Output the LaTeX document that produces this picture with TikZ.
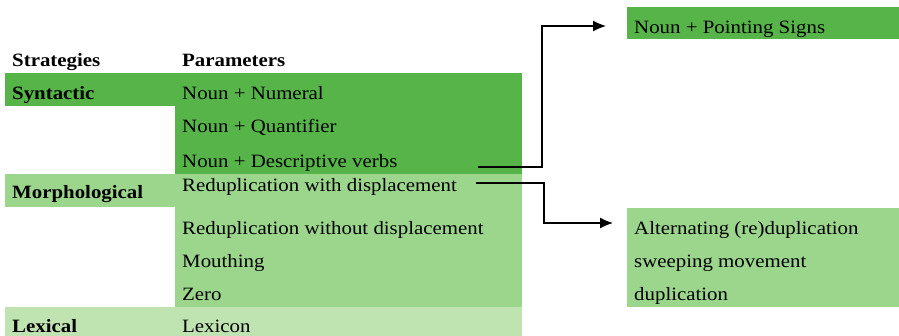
\documentclass[tikz,border=0pt]{standalone}
\usepackage{fontspec}
\setmainfont{Liberation Serif}[FakeStretch=1.11]
\usetikzlibrary{arrows.meta}
\definecolor{gdark}{RGB}{86,180,72}
\definecolor{gmid}{RGB}{155,214,140}
\definecolor{glight}{RGB}{191,228,177}
\begin{document}
\begin{tikzpicture}[x=1pt,y=-1pt,
  lbl/.style={anchor=base west,inner sep=0pt,font=\fontsize{18.8}{20}\selectfont},
  hdr/.style={lbl,font=\fontsize{18.8}{20}\selectfont\bfseries},
  link/.style={draw=black,line width=1.2pt,-{Latex[length=13pt,width=11pt]}}]
\useasboundingbox (0,0) rectangle (899,336);
% table bands
\fill[gdark] (5,73) rectangle (175,106);
\fill[gdark] (175,73) rectangle (522,174);
\fill[gmid] (5,174) rectangle (175,207);
\fill[gmid] (175,174) rectangle (522,307);
\fill[glight] (5,307) rectangle (522,336);
% boxes on the right
\fill[gdark] (627,7) rectangle (899,39);
\fill[gmid] (627,208) rectangle (899,307);
% headers
\node[hdr] (hS) at (12,67) {Strategies};
\node[hdr] (hP) at (182,67) {Parameters};
% strategies
\node[hdr] (syn) at (12,100) {Syntactic};
\node[hdr] (mor) at (12,199) {Morphological};
\node[hdr] (lex) at (12,333) {Lexical};
% parameters
\node[lbl] (p1) at (182,100) {Noun + Numeral};
\node[lbl] (p2) at (182,133) {Noun + Quantifier};
\node[lbl] (p3) at (182,168) {Noun + Descriptive verbs};
\node[lbl] (p4) at (182,192) {Reduplication with displacement};
\node[lbl] (p5) at (182,235) {Reduplication without displacement};
\node[lbl] (p6) at (182,268) {Mouthing};
\node[lbl] (p7) at (182,301) {Zero};
\node[lbl] (p8) at (182,333) {Lexicon};
% targets
\node[lbl] (t1) at (634,34) {Noun + Pointing Signs};
\node[lbl] (t2) at (634,235) {Alternating (re)duplication};
\node[lbl] (t3) at (634,268) {sweeping movement};
\node[lbl] (t4) at (634,301) {duplication};
% connectors
\coordinate (s1) at (478,167);
\coordinate (e1) at (606,26);
\coordinate (s2) at (476,183);
\coordinate (e2) at (613,223);
\draw[link] (s1) -- (542,167) -- (542,26) -- (e1);
\draw[link] (s2) -- (544,183) -- (544,223) -- (e2);
\end{tikzpicture}
\end{document}
